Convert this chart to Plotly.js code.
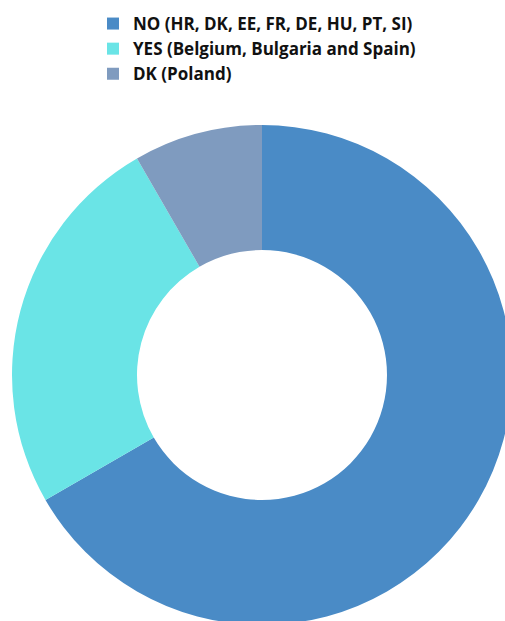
<!DOCTYPE html>
<html>
<head>
<meta charset="utf-8">
<script src="https://cdn.plot.ly/plotly-3.0.1.min.js"></script>
<style>
html,body{margin:0;padding:0;overflow:hidden;background:#fff;}
#chart{width:512px;height:625px;}
</style>
</head>
<body>
<div id="chart"></div>
<script>
const categories = ["NO (HR, DK, EE, FR, DE, HU, PT, SI)", "YES (Belgium, Bulgaria and Spain)", "DK (Poland)"];
const counts = [8, 3, 1];
const colors = ["#4a8bc6", "#6ae4e6", "#7f9bbf"];

const trace = {
  type: "pie",
  labels: categories,
  values: counts,
  hole: 0.5,
  sort: false,
  direction: "clockwise",
  rotation: 0,
  textinfo: "none",
  hoverinfo: "label+value",
  marker: {colors: colors, line: {width: 0}}
};

const layout = {
  width: 512,
  height: 625,
  margin: {l: 12, r: 0, t: 125, b: 0, autoexpand: false},
  paper_bgcolor: "#ffffff",
  showlegend: true,
  legend: {
    x: 0.162, y: 1.238, xanchor: "left", yanchor: "top",
    font: {family: "'Open Sans', sans-serif", size: 17, color: "#111111", weight: 700},
    bgcolor: "rgba(0,0,0,0)",
    traceorder: "normal"
  }
};

Plotly.newPlot("chart", [trace], layout, {displayModeBar: false, staticPlot: true});
</script>
</body>
</html>
